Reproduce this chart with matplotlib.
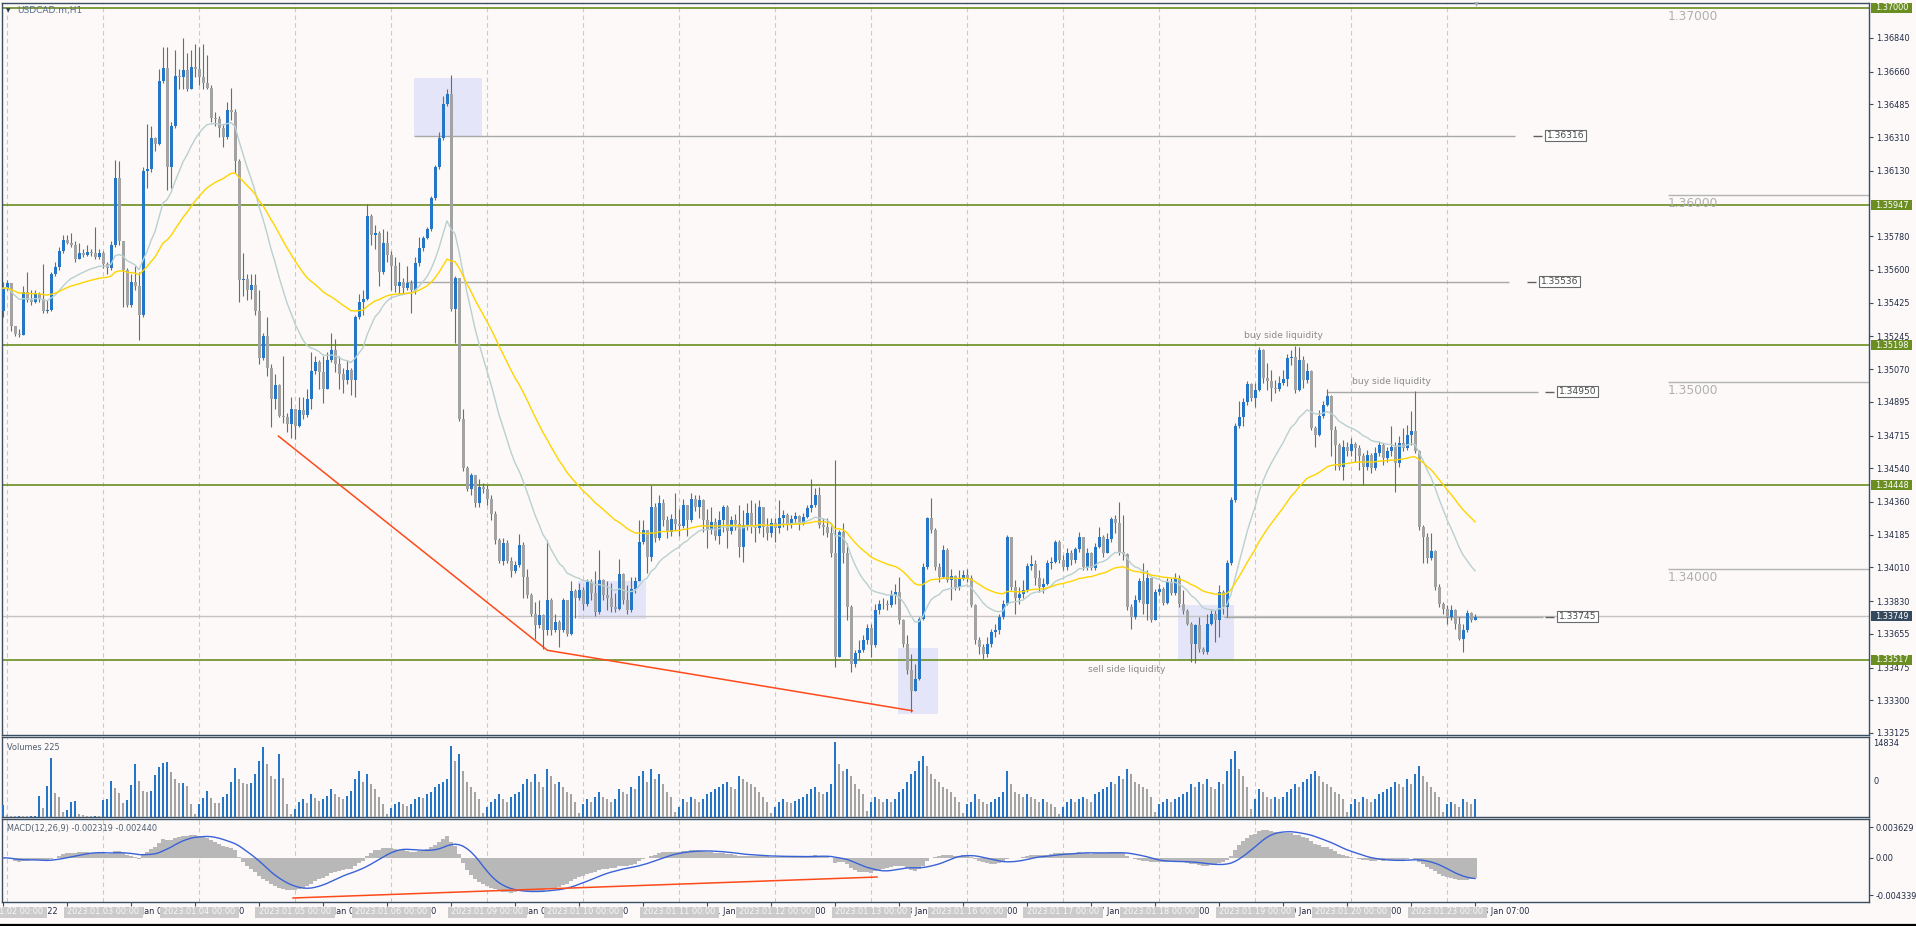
import numpy as np
import pandas as pd
import matplotlib
matplotlib.use("Agg")
import matplotlib.pyplot as plt
from matplotlib.patches import Rectangle
from matplotlib.lines import Line2D
from matplotlib.transforms import blended_transform_factory

# ---------------- data (USDCAD H1, 30 Dec 23:00 .. 23 Jan 07:00) ----------------
open_first = 1.35382

closes = [
    # Jan 02 (first value = last bar of 30 Dec)
    1.35502, 1.35531, 1.35299, 1.35255, 1.35251, 1.35480, 1.35437, 1.35426, 1.35474, 1.35447, 1.35382, 1.35386, 1.35579,
    1.35618, 1.35700, 1.35759, 1.35745, 1.35732, 1.35660, 1.35693, 1.35682, 1.35697, 1.35689, 1.35667, 1.35693,
    # Jan 03
    1.35634, 1.35612, 1.35732, 1.36094, 1.35755, 1.35601, 1.35415, 1.35535, 1.35513, 1.35360, 1.36131, 1.36137,
    1.36306, 1.36275, 1.36608, 1.36678, 1.36148, 1.36367, 1.36635, 1.36630, 1.36670, 1.36569, 1.36685, 1.36674,
    # Jan 04
    1.36630, 1.36597, 1.36575, 1.36411, 1.36407, 1.36356, 1.36313, 1.36455, 1.36444, 1.36181, 1.35546, 1.35553,
    1.35491, 1.35520, 1.35382, 1.35130, 1.35246, 1.35076, 1.34911, 1.34983, 1.34817, 1.34813, 1.34774, 1.34856,
    # Jan 05
    1.34764, 1.34852, 1.34824, 1.34911, 1.35058, 1.35108, 1.35053, 1.34966, 1.35119, 1.35174, 1.35097, 1.35043,
    1.35010, 1.35064, 1.35010, 1.35349, 1.35426, 1.35447, 1.35886, 1.35787, 1.35798, 1.35590, 1.35743, 1.35678,
    # Jan 06
    1.35623, 1.35513, 1.35535, 1.35502, 1.35531, 1.35491, 1.35638, 1.35715, 1.35772, 1.35820, 1.35984, 1.36148,
    1.36306, 1.36488, 1.36538, 1.35393, 1.35557, 1.34802, 1.34539, 1.34429, 1.34506, 1.34353, 1.34440, 1.34429,
    # Jan 09
    1.34375, 1.34298, 1.34156, 1.34046, 1.34138, 1.34046, 1.33991, 1.34024, 1.34130, 1.33959, 1.33860, 1.33761,
    1.33700, 1.33757, 1.33674, 1.33838, 1.33674, 1.33718, 1.33674, 1.33838, 1.33655, 1.33882, 1.33849, 1.33888,
    # Jan 10
    1.33816, 1.33932, 1.33871, 1.33772, 1.33941, 1.33860, 1.33849, 1.33801, 1.33788, 1.33976, 1.33838, 1.33783,
    1.33897, 1.33937, 1.34145, 1.34211, 1.34068, 1.34331, 1.34167, 1.34353, 1.34265, 1.34200, 1.34269, 1.34244,
    # Jan 11
    1.34233, 1.34342, 1.34265, 1.34375, 1.34331, 1.34370, 1.34265, 1.34211, 1.34254, 1.34178, 1.34265, 1.34331,
    1.34204, 1.34265, 1.34244, 1.34121, 1.34237, 1.34299, 1.34228, 1.34219, 1.34335, 1.34228, 1.34192, 1.34246,
    # Jan 12
    1.34219, 1.34272, 1.34290, 1.34237, 1.34267, 1.34285, 1.34246, 1.34281, 1.34326, 1.34344, 1.34397, 1.34237,
    1.34228, 1.34192, 1.34085, 1.33531, 1.34201, 1.34085, 1.33799, 1.33495, 1.33553, 1.33567, 1.33621, 1.33688,
    # Jan 13
    1.33594, 1.33781, 1.33814, 1.33817, 1.33808, 1.33862, 1.33880, 1.33728, 1.33603, 1.33460, 1.33349, 1.33415,
    1.33736, 1.34013, 1.34272, 1.34210, 1.34013, 1.33960, 1.34103, 1.33942, 1.33963, 1.33906, 1.33951, 1.33969,
    # Jan 16
    1.33951, 1.33808, 1.33621, 1.33585, 1.33549, 1.33603, 1.33665, 1.33674, 1.33745, 1.33817, 1.34174, 1.33906,
    1.33844, 1.33867, 1.33888, 1.34017, 1.34027, 1.33951, 1.33906, 1.33924, 1.34031, 1.34038, 1.34147, 1.34049,
    # Jan 17
    1.34013, 1.34088, 1.34049, 1.34106, 1.34171, 1.34013, 1.34088, 1.34008, 1.34117, 1.34174, 1.34088, 1.34160,
    1.34271, 1.34246, 1.34094, 1.34081, 1.33799, 1.33745, 1.33835, 1.33938, 1.33817, 1.33951, 1.33731, 1.33880,
    # Jan 18
    1.33893, 1.33821, 1.33933, 1.33874, 1.33951, 1.33817, 1.33778, 1.33710, 1.33603, 1.33701, 1.33576, 1.33558,
    1.33710, 1.33763, 1.33728, 1.33880, 1.33799, 1.34031, 1.34371, 1.34764, 1.34814, 1.34892, 1.34992, 1.34915,
    # Jan 19
    1.34956, 1.35174, 1.35023, 1.35005, 1.34969, 1.34964, 1.34996, 1.35017, 1.35130, 1.35135, 1.34960, 1.35121,
    1.35014, 1.35058, 1.34755, 1.34719, 1.34817, 1.34880, 1.34924, 1.34746, 1.34665, 1.34549, 1.34656, 1.34630,
    # Jan 20
    1.34671, 1.34648, 1.34603, 1.34549, 1.34612, 1.34540, 1.34621, 1.34665, 1.34594, 1.34630, 1.34656, 1.34567,
    1.34674, 1.34648, 1.34719, 1.34737, 1.34630, 1.34228, 1.34174, 1.34058, 1.34099, 1.33906, 1.33817, 1.33790,
    # Jan 23
    1.33745, 1.33781, 1.33710, 1.33629, 1.33674, 1.33767, 1.33731, 1.33745,
]

highs = [
    1.35535, 1.35546, 1.35525, 1.35290, 1.35283, 1.35513, 1.35590, 1.35491, 1.35491, 1.35480, 1.35634, 1.35437, 1.35590,
    1.35645, 1.35721, 1.35787, 1.35787, 1.35798, 1.35755, 1.35743, 1.35711, 1.35732, 1.35711, 1.35831, 1.35711,
    1.35700, 1.35645, 1.35755, 1.36188, 1.36181, 1.35700, 1.35612, 1.35579, 1.35623, 1.35590, 1.36148, 1.36378,
    1.36367, 1.36313, 1.36674, 1.36794, 1.36794, 1.36389, 1.36773, 1.36674, 1.36838, 1.36762, 1.36773, 1.36805,
    1.36794, 1.36805, 1.36751, 1.36586, 1.36444, 1.36422, 1.36378, 1.36499, 1.36575, 1.36459, 1.36192, 1.35689,
    1.35579, 1.35579, 1.35579, 1.35491, 1.35261, 1.35349, 1.35097, 1.35043, 1.34988, 1.35141, 1.34834, 1.34922,
    1.34846, 1.34922, 1.34922, 1.34966, 1.35163, 1.35141, 1.35119, 1.35141, 1.35163, 1.35261, 1.35229, 1.35141,
    1.35076, 1.35119, 1.35076, 1.35360, 1.35469, 1.35491, 1.35951, 1.35897, 1.35842, 1.35809, 1.35820, 1.35809,
    1.35700, 1.35667, 1.35645, 1.35557, 1.35623, 1.35546, 1.35667, 1.35776, 1.35780, 1.35831, 1.35995, 1.36159,
    1.36335, 1.36532, 1.36565, 1.36641, 1.35568, 1.35557, 1.34856, 1.34550, 1.34517, 1.34495, 1.34483, 1.34462,
    1.34451, 1.34397, 1.34309, 1.34167, 1.34167, 1.34156, 1.34068, 1.34046, 1.34189, 1.34145, 1.34002, 1.33871,
    1.33827, 1.33838, 1.33761, 1.34156, 1.33849, 1.33761, 1.33728, 1.33849, 1.33838, 1.33937, 1.33893, 1.33926,
    1.33904, 1.33948, 1.33948, 1.33991, 1.34101, 1.33948, 1.33937, 1.33926, 1.33871, 1.34057, 1.33980, 1.33915,
    1.33959, 1.33959, 1.34265, 1.34265, 1.34211, 1.34451, 1.34353, 1.34397, 1.34375, 1.34287, 1.34298, 1.34407,
    1.34320, 1.34375, 1.34342, 1.34407, 1.34397, 1.34397, 1.34375, 1.34320, 1.34331, 1.34276, 1.34309, 1.34342,
    1.34342, 1.34287, 1.34298, 1.34344, 1.34317, 1.34353, 1.34371, 1.34353, 1.34371, 1.34326, 1.34272, 1.34272,
    1.34272, 1.34371, 1.34317, 1.34299, 1.34290, 1.34308, 1.34290, 1.34299, 1.34344, 1.34481, 1.34433, 1.34442,
    1.34272, 1.34272, 1.34246, 1.34585, 1.34210, 1.34246, 1.34138, 1.33808, 1.33567, 1.33621, 1.33647, 1.33710,
    1.33710, 1.33817, 1.33835, 1.33844, 1.33835, 1.33888, 1.33924, 1.33960, 1.33736, 1.33647, 1.33549, 1.33495,
    1.33745, 1.34031, 1.34281, 1.34379, 1.34219, 1.34031, 1.34129, 1.34112, 1.34004, 1.33969, 1.33995, 1.33995,
    1.34004, 1.33969, 1.33817, 1.33638, 1.33603, 1.33638, 1.33683, 1.33710, 1.33763, 1.33835, 1.34183, 1.34174,
    1.33942, 1.33906, 1.33942, 1.34031, 1.34076, 1.34049, 1.33995, 1.33951, 1.34049, 1.34067, 1.34156, 1.34156,
    1.34076, 1.34112, 1.34103, 1.34121, 1.34201, 1.34174, 1.34112, 1.34094, 1.34138, 1.34228, 1.34183, 1.34192,
    1.34281, 1.34290, 1.34362, 1.34290, 1.34085, 1.33817, 1.33862, 1.33951, 1.34031, 1.33995, 1.33951, 1.33897,
    1.33924, 1.33906, 1.33951, 1.33951, 1.33978, 1.33969, 1.33888, 1.33790, 1.33719, 1.33710, 1.33745, 1.33585,
    1.33763, 1.33781, 1.33781, 1.33915, 1.33888, 1.34049, 1.34388, 1.34781, 1.34898, 1.34915, 1.35005, 1.34996,
    1.34996, 1.35189, 1.35178, 1.35103, 1.35067, 1.35014, 1.35031, 1.35067, 1.35148, 1.35174, 1.35196, 1.35189,
    1.35139, 1.35103, 1.35067, 1.34764, 1.34853, 1.34898, 1.34964, 1.34933, 1.34764, 1.34674, 1.34692, 1.34683,
    1.34701, 1.34683, 1.34665, 1.34621, 1.34639, 1.34621, 1.34656, 1.34683, 1.34674, 1.34656, 1.34764, 1.34683,
    1.34710, 1.34755, 1.34773, 1.34844, 1.34955, 1.34639, 1.34237, 1.34192, 1.34192, 1.34103, 1.33924, 1.33826,
    1.33808, 1.33808, 1.33790, 1.33745, 1.33710, 1.33781, 1.33772, 1.33763,
]

lows = [
    1.35349, 1.35491, 1.35272, 1.35246, 1.35240, 1.35251, 1.35426, 1.35415, 1.35422, 1.35430, 1.35371, 1.35371, 1.35378,
    1.35568, 1.35601, 1.35689, 1.35737, 1.35721, 1.35645, 1.35656, 1.35667, 1.35675, 1.35675, 1.35656, 1.35656,
    1.35612, 1.35579, 1.35601, 1.35721, 1.35732, 1.35404, 1.35404, 1.35404, 1.35491, 1.35225, 1.35349, 1.36039,
    1.36126, 1.36236, 1.36269, 1.36597, 1.36028, 1.36039, 1.36356, 1.36565, 1.36565, 1.36554, 1.36565, 1.36630,
    1.36586, 1.36565, 1.36565, 1.36389, 1.36367, 1.36313, 1.36258, 1.36302, 1.36400, 1.36116, 1.35426, 1.35458,
    1.35437, 1.35447, 1.35360, 1.35097, 1.35119, 1.35032, 1.34758, 1.34856, 1.34813, 1.34780, 1.34736, 1.34703,
    1.34697, 1.34758, 1.34802, 1.34813, 1.34856, 1.35043, 1.34966, 1.34889, 1.34966, 1.35108, 1.35053, 1.34966,
    1.34944, 1.34988, 1.34933, 1.34922, 1.35338, 1.35360, 1.35437, 1.35732, 1.35711, 1.35513, 1.35579, 1.35645,
    1.35491, 1.35480, 1.35469, 1.35469, 1.35491, 1.35371, 1.35469, 1.35623, 1.35700, 1.35765, 1.35809, 1.35973,
    1.36137, 1.36297, 1.36477, 1.35382, 1.35207, 1.34791, 1.34528, 1.34418, 1.34397, 1.34331, 1.34331, 1.34407,
    1.34342, 1.34265, 1.34134, 1.34035, 1.34024, 1.34035, 1.33959, 1.33980, 1.34013, 1.33849, 1.33849, 1.33750,
    1.33630, 1.33685, 1.33575, 1.33651, 1.33651, 1.33663, 1.33586, 1.33663, 1.33641, 1.33647, 1.33739, 1.33838,
    1.33783, 1.33805, 1.33838, 1.33750, 1.33761, 1.33838, 1.33783, 1.33772, 1.33772, 1.33783, 1.33816, 1.33761,
    1.33772, 1.33871, 1.33937, 1.34134, 1.33980, 1.34046, 1.34145, 1.34156, 1.34233, 1.34167, 1.34178, 1.34211,
    1.34178, 1.34222, 1.34178, 1.34254, 1.34309, 1.34276, 1.34200, 1.34112, 1.34189, 1.34156, 1.34134, 1.34200,
    1.34112, 1.34189, 1.34211, 1.34067, 1.34040, 1.34210, 1.34192, 1.34147, 1.34192, 1.34174, 1.34156, 1.34174,
    1.34147, 1.34192, 1.34228, 1.34210, 1.34219, 1.34246, 1.34210, 1.34237, 1.34272, 1.34308, 1.34335, 1.34219,
    1.34183, 1.34174, 1.34067, 1.33478, 1.33531, 1.34031, 1.33728, 1.33451, 1.33478, 1.33522, 1.33558, 1.33603,
    1.33531, 1.33585, 1.33763, 1.33790, 1.33781, 1.33799, 1.33817, 1.33710, 1.33585, 1.33442, 1.33237, 1.33371,
    1.33406, 1.33728, 1.34004, 1.34192, 1.33995, 1.33933, 1.33951, 1.33933, 1.33835, 1.33888, 1.33888, 1.33942,
    1.33933, 1.33799, 1.33603, 1.33549, 1.33522, 1.33531, 1.33585, 1.33638, 1.33656, 1.33736, 1.33808, 1.33888,
    1.33763, 1.33817, 1.33844, 1.33880, 1.33995, 1.33915, 1.33880, 1.33871, 1.33915, 1.34004, 1.34031, 1.34031,
    1.33995, 1.33995, 1.34022, 1.34031, 1.34094, 1.33995, 1.33995, 1.33995, 1.33995, 1.34112, 1.34067, 1.34085,
    1.34147, 1.34192, 1.34076, 1.34049, 1.33781, 1.33683, 1.33736, 1.33826, 1.33763, 1.33728, 1.33719, 1.33728,
    1.33862, 1.33808, 1.33817, 1.33862, 1.33862, 1.33799, 1.33763, 1.33701, 1.33504, 1.33499, 1.33558, 1.33549,
    1.33549, 1.33701, 1.33612, 1.33638, 1.33763, 1.33745, 1.34022, 1.34362, 1.34755, 1.34767, 1.34880, 1.34898,
    1.34867, 1.34951, 1.34996, 1.34960, 1.34898, 1.34942, 1.34951, 1.34987, 1.34978, 1.35094, 1.34942, 1.34951,
    1.34969, 1.34996, 1.34746, 1.34656, 1.34710, 1.34808, 1.34871, 1.34603, 1.34531, 1.34531, 1.34478, 1.34603,
    1.34603, 1.34576, 1.34531, 1.34451, 1.34531, 1.34514, 1.34531, 1.34603, 1.34558, 1.34576, 1.34603, 1.34415,
    1.34549, 1.34630, 1.34639, 1.34665, 1.34621, 1.34210, 1.34031, 1.34031, 1.34049, 1.33888, 1.33799, 1.33763,
    1.33710, 1.33728, 1.33683, 1.33621, 1.33558, 1.33665, 1.33719, 1.33728,
]

volumes = [
    2280, 300, 150, 120, 160, 140, 130, 170, 250, 4180, 1710, 6080, 11590, 4750, 3990, 950, 1330, 3040, 3230, 570,
    300, 250, 200, 260, 180,
    3420, 3460, 7030, 5700, 4750, 2850, 3420, 6270, 10450, 7030, 5130, 4940, 5130, 8360, 9880, 10600,
    10900, 8930, 7600, 6650, 6700, 6080, 2660, 570,
    2470, 3800, 5130, 3800, 2850, 2700, 3990, 4560, 6840, 9690, 7600, 6650, 6500, 6700, 8550, 11020,
    13870, 10450, 8170, 7410, 12540, 7790, 2660, 570,
    1500, 3000, 3500, 2800, 4500, 3800, 3200, 3600, 4200, 5500, 4500, 4000, 3500, 4200, 5200, 7500,
    9000, 7000, 8500, 6500, 5500, 4000, 2500, 600,
    1800, 2500, 3000, 2500, 2200, 2600, 3500, 4000, 3800, 4500, 5000, 6000, 6500, 7000, 7500, 14000,
    11000, 12500, 9000, 7000, 6000, 5000, 3500, 800,
    2000, 3000, 3500, 4500, 3500, 3000, 4000, 4500, 5000, 6500, 7500, 7000, 8500, 7000, 6000, 9500,
    8000, 6500, 7000, 6000, 5000, 4500, 3000, 800,
    2500, 3500, 3000, 4000, 5000, 4000, 3500, 3000, 3500, 5500, 5000, 4500, 6000, 5500, 8000, 9000,
    7000, 9500, 7500, 8500, 6500, 5000, 4000, 1000,
    2000, 3500, 3000, 4000, 3500, 3000, 3500, 4500, 5000, 5500, 6000, 6500, 7000, 6000, 5500, 8000,
    7500, 7000, 6500, 6000, 5000, 4000, 3000, 800,
    2000, 3000, 3500, 3000, 2800, 3200, 3500, 4000, 4500, 5500, 6000, 5000, 4500, 5000, 6500, 14834,
    10500, 9000, 9500, 8000, 6500, 5500, 4500, 1200,
    3000, 4000, 3500, 3000, 3500, 3000, 3500, 5000, 5500, 7000, 8500, 9000, 11000, 12000, 10000, 8500,
    7500, 7000, 6000, 5500, 5000, 4000, 3000, 800,
    2500, 3000, 4500, 3500, 3000, 2500, 3000, 3500, 4000, 5000, 9000, 6500, 5000, 4500, 4000, 4500,
    4000, 3500, 3000, 3500, 3000, 2500, 2000, 600,
    2000, 3000, 3500, 3000, 3500, 4000, 3500, 3000, 4500, 5000, 5500, 6000, 7000, 6500, 8000, 7500,
    9500, 8500, 7000, 6500, 6000, 5500, 4000, 900,
    2500, 3000, 3500, 3000, 3500, 4000, 4500, 5000, 6500, 6000, 7000, 6500, 7500, 6000, 5500, 7000,
    6500, 9000, 11500, 13000, 9500, 8000, 6000, 1500,
    3500, 5500, 5000, 4000, 3500, 4000, 3500, 4000, 5000, 5500, 6500, 6000, 7000, 7500, 8500, 9000,
    8000, 7000, 6500, 6000, 5000, 4500, 3500, 900,
    2500, 3500, 3000, 4000, 3500, 3000, 3500, 4500, 5000, 5500, 6000, 7000, 6500, 6000, 7500, 6500,
    8500, 10000, 8000, 7000, 6000, 5000, 4000, 1000,
    2500, 3000, 2500, 2000, 3500, 3000, 2500, 3500,
]

days = [2, 3, 4, 5, 6, 9, 10, 11, 12, 13, 16, 17, 18, 19, 20, 23]
green_levels = [1.37000, 1.35947, 1.35198, 1.34448, 1.33517]
price_ticks = [1.36840, 1.36660, 1.36485, 1.36310, 1.36130, 1.35780, 1.35600, 1.35425, 1.35245, 1.35070,
               1.34895, 1.34715, 1.34540, 1.34360, 1.34185, 1.34010, 1.33830, 1.33655, 1.33475, 1.33300, 1.33125]
round_levels = [1.37, 1.36, 1.35, 1.34]
bid = 1.33749
# level, start bar, end bar, label box left (px)
levels = [(1.36316, 102.75, 378.0, 1545), (1.35536, 100.75, 376.5, 1539),
          (1.34950, 331.0, 383.75, 1557), (1.33745, 305.25, 385.0, 1557)]
boxes = [(102.75, 119.75, 1.36316, 1.36626), (143.75, 160.75, 1.33734, 1.33938),
         (223.75, 233.75, 1.33227, 1.33579), (293.75, 307.75, 1.33510, 1.33809)]
trend_x = [68.85, 136.1, 227.3]
trend_y = [1.34712, 1.33567, 1.33244]
macd_trend_x = [72.5, 218.5]
macd_trend_y = [-0.00469, -0.00223]
notes = [(320, 1.35247, "buy side liquidity"), (347, 1.35006, "buy side liquidity"),
         (281, 1.33462, "sell side liquidity")]

# ---------------- style ----------------
W, H = 1916, 926
BG = "#fcf9f8"
FRAME = "#3b4f63"
BLUE = "#2676c8"
GREY = "#a3a3a3"
WICK = "#5d7272"
OLIVE = "#6b8e23"
TXT = "#1f2a44"
FS = 5.9

plt.rcParams["font.family"] = ["DejaVu Sans"]
fig = plt.figure(figsize=(W / 100, H / 100), dpi=100, facecolor=BG)


def panel(top, bottom):
    a = fig.add_axes([2 / W, 1 - bottom / H, (1869 - 2) / W, (bottom - top) / H])
    a.set_facecolor(BG)
    for s in a.spines.values():
        s.set_color(FRAME)
        s.set_linewidth(1)
    a.set_xlim(-0.25, 466.5)
    a.tick_params(axis="x", bottom=False, labelbottom=False)
    a.yaxis.tick_right()
    a.tick_params(axis="y", length=3, width=0.8, color=FRAME, labelsize=FS, labelcolor=TXT, pad=2)
    return a


ax = panel(3, 735)
axv = panel(737, 817)
axm = panel(819, 902)

n = len(closes)
idx = np.arange(n)
c = np.array(closes)
o = np.r_[open_first, c[:-1]]
hi = np.maximum(np.array(highs), np.maximum(o, c))
lo = np.minimum(np.array(lows), np.minimum(o, c))
up = c >= o

# price panel
ax.set_ylim(1.331143, 1.370267)
ax.set_yticks(price_ticks)
ax.set_yticklabels([f"{v:.5f}" for v in price_ticks])

for k in range(len(days)):
    for a in (ax, axv, axm):
        a.axvline(1 + 24 * k, color="#cacaca", lw=0.8, ls=(0, (4, 3)), zorder=1)

for x0, x1, y0, y1 in boxes:
    ax.add_patch(Rectangle((x0, y0), x1 - x0, y1 - y0, facecolor="#e4e5f8", edgecolor="none", zorder=0.8))

for v in green_levels:
    ax.axhline(v, color=OLIVE, lw=1.2, zorder=2)

ax.axhline(bid, color="#c4c4c4", lw=1, zorder=2)

for v in round_levels:
    if v < 1.37:
        ax.hlines(v, (1668 - 3) / 4, 466.5, color="#b4b4b4", lw=1, zorder=2)
    ax.text((1668 - 3) / 4, v - 0.0001, f"{v:.5f}", fontsize=8.8, color="#b0b0b0", va="top", ha="left", zorder=2)

for v, i0, i1, bx in levels:
    ax.hlines(v, i0, i1, color="#a8a8a8", lw=1, zorder=2)
    ax.hlines(v, (bx - 12 - 3) / 4, (bx - 3 - 3) / 4, color="#606060", lw=1, zorder=2)
    hh = 5.5 / 18710
    ax.add_patch(Rectangle(((bx - 3) / 4, v - hh), 41 / 4, 2 * hh, facecolor="#ffffff",
                           edgecolor="#6a6a6a", lw=0.8, zorder=6))
    ax.text((bx + 20.5 - 3) / 4, v, f"{v:.5f}", fontsize=6.6, color="#4a4a4a", ha="center", va="center", zorder=7)

ax.plot(trend_x, trend_y, color="#ff4a1a", lw=1.1, zorder=3)

ax.vlines(idx, lo, hi, color=WICK, lw=0.8, zorder=3)
body = np.maximum(np.abs(c - o), 0.00002)
ax.bar(idx, body, bottom=np.minimum(o, c), width=0.75, color=np.where(up, BLUE, GREY), linewidth=0, zorder=4)

s = pd.Series(c)
ax.plot(idx, s.ewm(span=20, adjust=False).mean(), color="#b9d0d0", lw=1, zorder=5)
ax.plot(idx, s.ewm(span=50, adjust=False).mean(), color="#ffd400", lw=1, zorder=5)

for x, y, t in notes:
    ax.text(x, y, t, fontsize=6.6, color="#8a8a8a", ha="center", va="center", zorder=7)

# right axis boxed labels
trp = blended_transform_factory(fig.transFigure, ax.transData)
for v in green_levels + [bid]:
    hh = 5 / 18710
    col = OLIVE if v != bid else "#34495e"
    ax.add_patch(Rectangle((1871 / W, v - hh), 41 / W, 2 * hh, transform=trp, facecolor=col,
                           edgecolor="none", clip_on=False, zorder=10))
    ax.text(1891.5 / W, v, f"{v:.5f}", transform=trp, fontsize=FS, color="white", ha="center", va="center",
            clip_on=False, zorder=11)

# volumes
vol = np.array(volumes)
vcol = np.where(np.r_[True, vol[1:] > vol[:-1]], BLUE, GREY)
axv.bar(idx, vol, width=0.65, color=vcol, linewidth=0, zorder=3)
axv.set_ylim(0, 15800)
axv.set_yticks([])

# MACD
ema12 = s.ewm(span=12, adjust=False).mean()
ema26 = s.ewm(span=26, adjust=False).mean()
macd = ema12 - ema26
signal = macd.rolling(9, min_periods=1).mean()
axm.bar(idx, macd, width=1.0, color="#b8b8b8", linewidth=0, zorder=2)
axm.plot(idx, signal, color="#3a62d8", lw=1, zorder=3)
axm.plot(macd_trend_x, macd_trend_y, color="#ff4a1a", lw=1.1, zorder=4)
axm.set_ylim(-0.005159, 0.004567)
axm.set_yticks([0.003629, 0.0, -0.004339])
axm.set_yticklabels(["0.003629", "0.00", "-0.004339"])

# x axis ticks and labels
tick_i = list(range(0, n, 16))
axm.set_xticks(tick_i)
axm.tick_params(axis="x", bottom=True, length=3, width=0.8, color=FRAME, labelbottom=False)


def ftext(x, y, t, **kw):
    fig.text(x / W, 1 - y / H, t, **kw)


for i in tick_i:
    b = i - 1
    lab = "30 Dec 2022" if b < 0 else f"{days[b // 24]} Jan {b % 24:02d}:00"
    ftext(3 + 4 * i + 3, 912, lab, fontsize=FS, color=TXT, va="center", ha="left")

for k, d in enumerate(days):
    xc = 7 + 96 * k
    fig.add_artist(Rectangle(((xc - 39.5) / W, 1 - 917.5 / H), 79 / W, 11 / H, transform=fig.transFigure,
                             facecolor="#cbcbcb", edgecolor="none", zorder=5))
    ftext(xc, 912, f"2023.01.{d:02d} 00:00", fontsize=FS, color="#f8f8f8", va="center", ha="center", zorder=6)

# panel texts
ftext(17, 11, "USDCAD.m,H1", fontsize=6.5, color="#5a6f8c", va="center")
ftext(6, 11, "\u25bc", fontsize=4.2, color="#2b3d55", va="center")
ftext(1476, 5, "\u25bc", fontsize=4.5, color="#a8a8a8", va="center", ha="center")
ftext(7, 747, "Volumes 225", fontsize=FS, color="#4e5e70", va="center")
ftext(7, 828, "MACD(12,26,9) -0.002319 -0.002440", fontsize=FS, color="#4e5e70", va="center")
ftext(1873, 744, "14834", fontsize=FS, color=TXT, va="center")
ftext(1873, 782, "0", fontsize=FS, color=TXT, va="center")

fig.add_artist(Line2D([0, 1], [1 - 925 / H] * 2, color="black", lw=1.6))

fig.savefig("out.png", dpi=100, facecolor=BG)
